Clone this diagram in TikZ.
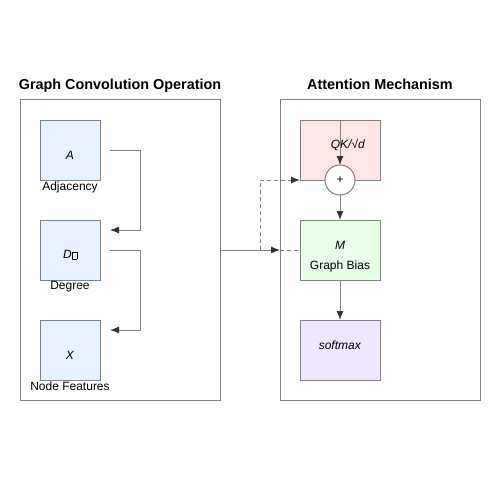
\documentclass[tikz,border=0pt]{standalone}
\usepackage{fontspec}
\setmainfont{Liberation Sans}
\usepackage{tikz}
\usetikzlibrary{positioning,arrows.meta}
\definecolor{linegray}{HTML}{808080}
\definecolor{tipgray}{HTML}{333333}
\definecolor{adjfill}{HTML}{E6F2FF}
\definecolor{qkfill}{HTML}{FFE6E6}
\definecolor{biasfill}{HTML}{E6FFE6}
\definecolor{smfill}{HTML}{F0E6FF}
\newcommand{\tofu}{\kern0.5pt{\fboxsep=0pt\fboxrule=0.3pt\fbox{\rule{0pt}{7pt}\hspace{4pt}}}}
\tikzset{>={Latex[length=9pt,width=7pt,color=tipgray]}}
\tikzset{
  panel/.style={draw=linegray, line width=1pt, outer sep=0pt, minimum width=200pt, minimum height=300pt, inner sep=0pt},
  mat/.style={draw=linegray, line width=1pt, outer sep=0pt, fill=adjfill, minimum width=60pt, minimum height=60pt, inner sep=0pt},
  op/.style={mat, minimum width=80pt},
  sumnode/.style={circle, draw=linegray, line width=1pt, outer sep=0pt, fill=white, minimum size=30pt, inner sep=0pt},
  conn/.style={draw=linegray, line width=1pt},
  title/.style={font=\fontsize{14.4}{16}\selectfont\bfseries, text height=10pt, text depth=3pt},
  matcap/.style={inner sep=0pt, label distance=1.5pt},
}

\begin{document}
\begin{tikzpicture}[x=1pt, y=-1pt, font=\fontsize{12}{14}\selectfont]
  \useasboundingbox (0,0) rectangle (500,500);

  % Panels
  \node[panel]                  (gcn)  at (120,250) {};
  \node[panel, right=60pt of gcn] (attn) {};
  \node[title, above=4pt of gcn]  (gcntitle)  {Graph Convolution Operation};
  \node[title, above=4pt of attn] (attntitle) {Attention Mechanism};

  % Nodes
  \node[mat, label={[yshift=-5pt]center:\textit{A}},
    label={[matcap]below:Adjacency}] (A) at (70,150) {};
  \node[mat, below=40pt of A, label={[yshift=-5pt]center:{\textit{D}\tofu}},
    label={[matcap]below:Degree}] (D) {};
  \node[mat, below=40pt of D, label={[yshift=-5pt]center:\textit{X}},
    label={[matcap]below:Node Features}] (X) {};

  \node[op, fill=qkfill, label={[xshift=8pt, yshift=5pt]center:\textit{QK/√d}}] (QK) at (340,150) {};
  \node[sumnode] (plus) at (QK.south) {+};
  \node[op, fill=biasfill, below=40pt of QK, label={[yshift=5pt]center:\textit{M}},
    label={[yshift=-16pt]center:Graph Bias}] (M) {};
  \node[op, fill=smfill, below=40pt of M, label={[yshift=5pt]center:\textit{softmax}}] (SM) {};

  \coordinate (split) at ([shift={(-20,0)}]attn.west);

  % Edges
  \draw[conn, ->] ([shift={(10,0)}]A.east) -| ([shift={(40,-20)}]D.east) -- ([shift={(10,-20)}]D.east);
  \draw[conn, ->] ([shift={(10,0)}]D.east) -| ([shift={(40,-20)}]X.east) -- ([shift={(10,-20)}]X.east);
  \draw[conn, ->] (gcn.east) -- (attn.west);
  \draw[conn, dash pattern=on 4pt off 3pt, ->] (split) |- (QK.south west);
  \draw[conn, dash pattern=on 4pt off 3pt] (attn.west) -- (M.west);
  \draw[conn, ->] (QK.north) -- (plus.north);
  \draw[conn, ->] (plus.south) -- (M.north);
  \draw[conn, ->] (M.south) -- (SM.north);

\end{tikzpicture}
\end{document}
